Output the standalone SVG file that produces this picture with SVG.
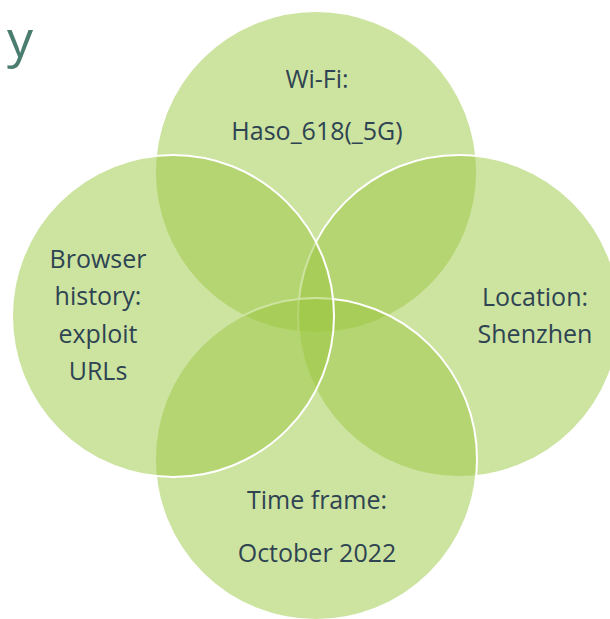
<svg xmlns="http://www.w3.org/2000/svg" width="610" height="619" viewBox="0 0 610 619">
<style>
.c{fill:#9BC841;fill-opacity:0.5;stroke:#FFFFFF;stroke-width:2}
.t{font-family:"Open Sans","Liberation Sans",sans-serif;font-size:25px;fill:#2E4452;text-anchor:middle}
</style>
<rect width="610" height="619" fill="#FFFFFF"/>
<text x="7" y="57" font-family="Open Sans, Liberation Sans, sans-serif" font-size="52" fill="#4A7C70">y</text>
<g id="wifi"><circle class="c" cx="316" cy="172" r="161"/></g>
<g id="location"><circle class="c" cx="459" cy="316" r="161"/></g>
<g id="time"><circle class="c" cx="316" cy="459" r="161"/></g>
<g id="browser"><circle class="c" cx="173" cy="316" r="161"/></g>
<g id="labels">
<text class="t" x="317" y="88">Wi-Fi:</text>
<text class="t" x="317" y="140">Haso_618(_5G)</text>
<text class="t" x="98" y="268">Browser</text>
<text class="t" x="98" y="305">history:</text>
<text class="t" x="98" y="343">exploit</text>
<text class="t" x="98" y="380">URLs</text>
<text class="t" x="535" y="306">Location:</text>
<text class="t" x="535" y="343">Shenzhen</text>
<text class="t" x="317" y="509">Time frame:</text>
<text class="t" x="317" y="562">October 2022</text>
</g>
</svg>
